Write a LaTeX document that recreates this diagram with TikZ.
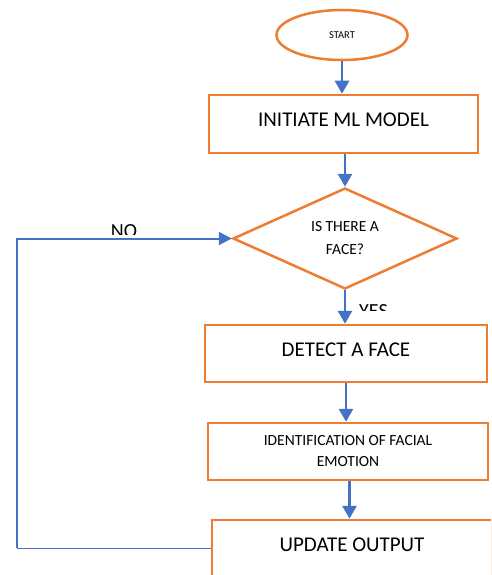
\documentclass[tikz,border=0pt]{standalone}
\usepackage{fontspec}
\setmainfont{Carlito}
\usetikzlibrary{shapes.geometric,arrows.meta}
\definecolor{borange}{HTML}{ED7D31}
\definecolor{bblue}{HTML}{4472C4}
\tikzset{
  fbox/.style={draw=borange, line width=2.5pt, fill=white, inner sep=0pt, rectangle,
    font=\fontsize{21}{25}\selectfont},
  oneline/.style={text height=14pt, text depth=8.5pt},
  flowarrow/.style={draw=bblue, line width=2.8pt, -{Triangle[width=14pt,length=13pt]}},
  loopline/.style={draw=bblue, line width=1.3pt},
  looparrow/.style={draw=bblue, line width=2pt, -{Triangle[width=13pt,length=13pt]}},
  lbl/.style={inner sep=0pt, font=\fontsize{20}{24}\selectfont}
}
\begin{document}
\begin{tikzpicture}[x=1pt,y=-1pt]
\useasboundingbox (0,0) rectangle (491,575);
\clip (0,0) rectangle (491,575);
\fill[white] (0,0) rectangle (491,575);
% nodes
\node[ellipse, draw=borange, line width=2.5pt, fill=white, inner sep=0pt,
      minimum width=131pt, minimum height=50pt, font=\fontsize{10.5}{12}\selectfont]
      (start) at (342,35) {START};
\node[fbox, oneline, minimum width=269pt, minimum height=58pt] (init) at (343.5,124) {INITIATE ML MODEL};
\node[diamond, draw=borange, line width=2.5pt, fill=white, inner sep=0pt,
      minimum width=224pt, minimum height=101pt, align=center,
      font=\fontsize{15.5}{23}\selectfont] (dia) at (345,238.5) {IS THERE A\\FACE?};
\node[fbox, oneline, minimum width=282pt, minimum height=57pt] (detect) at (346,353.5) {DETECT A FACE};
\node[fbox, align=center, minimum width=280pt, minimum height=57pt,
      font=\fontsize{15.5}{21}\selectfont] (ident) at (348,451.5) {IDENTIFICATION OF FACIAL\\EMOTION};
\node[fbox, oneline, minimum width=280pt, minimum height=57pt] (update) at (352,548.5) {UPDATE OUTPUT};
% connectors
\draw[flowarrow] (start.south) -- (start.south |- init.north);
\draw[flowarrow] (dia.north |- init.south) -- (dia.north);
\draw[flowarrow] (dia.south) -- (dia.south |- detect.north);
\draw[flowarrow] (detect.south) -- (detect.south |- ident.north);
\draw[flowarrow] ([xshift=1.5pt]ident.south) -- ([xshift=1.5pt]ident.south |- update.north);
\coordinate (lpx) at (17,0);
\coordinate (lpb) at (update.west -| lpx);
\draw[loopline] (update.west) -- (lpb);
\draw[looparrow] ([yshift=0.5pt]lpb) |- (dia.west);
% clipped labels
\begin{scope}
  \clip (90,200) rectangle (170,234);
  \node[lbl, anchor=base] (no) at (124,237) {NO};
\end{scope}
\begin{scope}
  \clip (352,292) rectangle (410,310);
  \node[lbl, anchor=base west] (yes) at (359,317) {YES};
\end{scope}
\end{tikzpicture}
\end{document}
